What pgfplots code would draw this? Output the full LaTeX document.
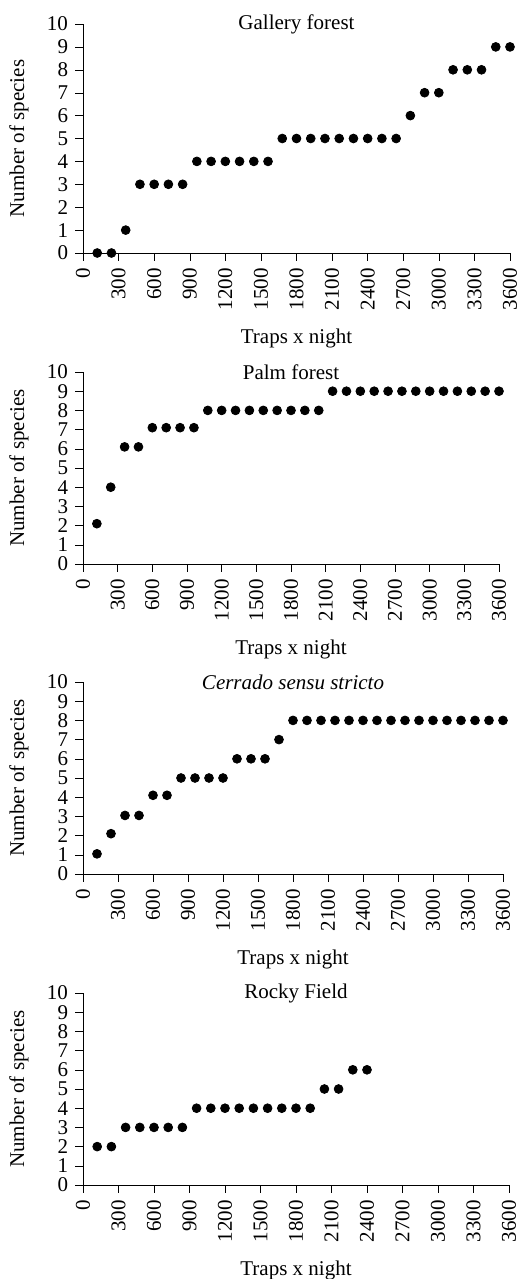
\documentclass[border=0pt]{standalone}
\usepackage{fontspec}
\setmainfont{Liberation Serif}
\usepackage{pgfplots}
\usepackage{pgfplotstable}
\pgfplotsset{compat=1.18}

\pgfplotstableread{
x y
120 0
240 0
360 1
480 3
600 3
720 3
840 3
960 4
1080 4
1200 4
1320 4
1440 4
1560 4
1680 5
1800 5
1920 5
2040 5
2160 5
2280 5
2400 5
2520 5
2640 5
2760 6
2880 7
3000 7
3120 8
3240 8
3360 8
3480 9
3600 9
}\gallery

\pgfplotstableread{
x y
120 2.1
240 4
360 6.1
480 6.1
600 7.1
720 7.1
840 7.1
960 7.1
1080 8
1200 8
1320 8
1440 8
1560 8
1680 8
1800 8
1920 8
2040 8
2160 9
2280 9
2400 9
2520 9
2640 9
2760 9
2880 9
3000 9
3120 9
3240 9
3360 9
3480 9
3600 9
}\palm

\pgfplotstableread{
x y
120 1.05
240 2.1
360 3.05
480 3.05
600 4.1
720 4.1
840 5
960 5
1080 5
1200 5
1320 6
1440 6
1560 6
1680 7
1800 8
1920 8
2040 8
2160 8
2280 8
2400 8
2520 8
2640 8
2760 8
2880 8
3000 8
3120 8
3240 8
3360 8
3480 8
3600 8
}\cerrado

\pgfplotstableread{
x y
120 2
240 2
360 3
480 3
600 3
720 3
840 3
960 4
1080 4
1200 4
1320 4
1440 4
1560 4
1680 4
1800 4
1920 4
2040 5
2160 5
2280 6
2400 6
}\rocky

\pgfplotsset{
  panel/.style={
    scale only axis,
    anchor=south west,
    axis lines=left,
    axis line style={-, black},
    xmin=0, xmax=3600,
    ymin=0, ymax=10,
    xtick={0,300,...,3600},
    ytick={0,1,...,10},
    tick align=outside,
    major tick length=3.8pt,
    tick style={black},
    /pgf/number format/assume math mode=true,
    /pgf/number format/1000 sep={},
    x tick label style={rotate=90, anchor=east},
    xlabel={Traps x night},
    ylabel={Number of species},
    every axis x label/.style={at={(axis description cs:0.5,0)}, yshift=-42.5pt, anchor=center},
    every axis y label/.style={at={(axis description cs:0,0.5)}, xshift=-32pt, rotate=90, anchor=center},
    every axis title/.style={at={(axis description cs:0.5,1)}, anchor=center},
  },
  dots/.style={only marks, mark=*, mark size=2.2pt, black},
}

\begin{document}
\fontsize{10.5}{12.6}\selectfont
\begin{tikzpicture}
\useasboundingbox (0,0) rectangle (259.5pt,-639.5pt);

% Gallery forest
\begin{axis}[panel, at={(41.5pt,-126.5pt)}, width=213.5pt, height=114.5pt, title={Gallery forest}]
  \addplot[dots] table[x=x, y=y] {\gallery};
\end{axis}

% Palm forest
\begin{axis}[panel, at={(41.5pt,-282pt)}, width=208pt, height=96pt, title={Palm forest}]
  \addplot[dots] table[x=x, y=y] {\palm};
\end{axis}

% Cerrado
\begin{axis}[panel, at={(41.5pt,-437pt)}, width=210pt, height=96pt, title={\textit{Cerrado sensu stricto}}]
  \addplot[dots] table[x=x, y=y] {\cerrado};
\end{axis}

% Rocky field
\begin{axis}[panel, at={(41.5pt,-592.5pt)}, width=213pt, height=96pt, title={Rocky Field}]
  \addplot[dots] table[x=x, y=y] {\rocky};
\end{axis}

\end{tikzpicture}
\end{document}
